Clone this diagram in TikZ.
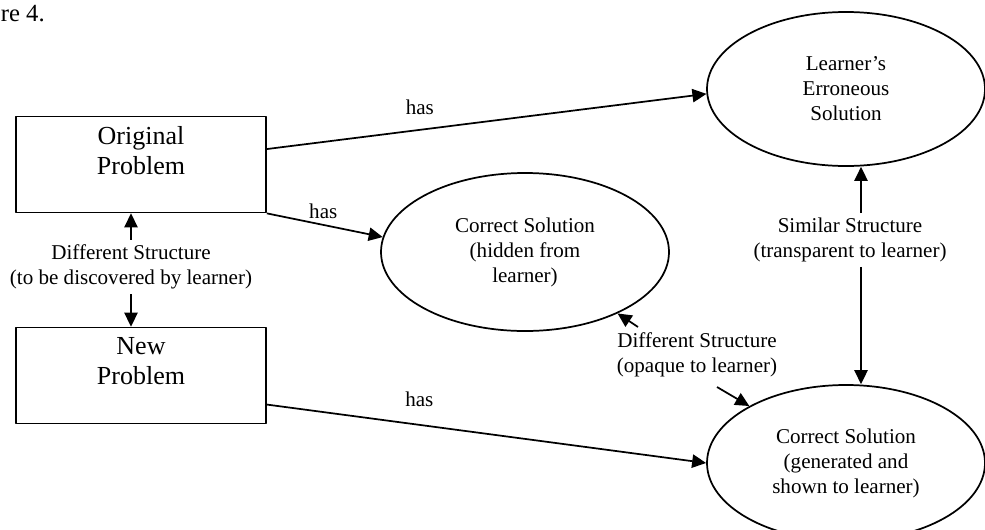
\documentclass[tikz,border=0pt]{standalone}
\usepackage{fontspec}
\setmainfont{Liberation Serif}
\usetikzlibrary{positioning,shapes.geometric,arrows.meta}
\begin{document}
\begin{tikzpicture}[x=0.75pt,y=-0.75pt,line width=1.3pt,line join=round,>={Triangle[length=10.5pt,width=10pt]}]
\tikzset{probbox/.style={draw,rectangle,minimum width=187.5pt,minimum height=72pt,inner sep=0pt},
	boxtext/.style={align=center,font=\fontsize{19.5}{22.5}\selectfont,inner sep=3pt},
	solell/.style={draw,ellipse,inner sep=0pt,align=center,font=\fontsize{15.8}{18.8}\selectfont},
	lab/.style={align=center,font=\fontsize{15.8}{18.8}\selectfont,inner xsep=1.5pt,inner ysep=3pt},
	haslab/.style={font=\fontsize{15.8}{18.8}\selectfont,inner sep=1pt}}
\useasboundingbox (0,0) rectangle (985,529);
\node[anchor=base west,inner sep=0pt,font=\fontsize{18.5}{20}\selectfont] (fig) at (0,21) {re 4.};
% problems
\node[probbox] (orig) at (141,164.5) {};
\node[boxtext,below=4.5pt of orig.north] (origtxt) {Original\\Problem};
\node[probbox] (new) at (141,375.5) {};
\node[boxtext,below=4.5pt of new.north] (newtxt) {New\\Problem};
% solutions
\node[solell,minimum width=208.5pt,minimum height=115.5pt] (learner) at (846,89) {Learner's\\Erroneous\\Solution};
\node[solell,minimum width=216pt,minimum height=118.5pt] (hidden) at (525,252) {Correct Solution\\(hidden from\\learner)};
\node[solell,minimum width=208.5pt,minimum height=117pt] (sol) at (846,463) {Correct Solution\\(generated and\\shown to learner)};
% structure labels
\node[lab] (diffA) at (131,267) {Different Structure\\(to be discovered by learner)};
\node[lab] (simlab) at (850,240) {Similar Structure\\(transparent to learner)};
\node[lab] (opq) at (697,355) {Different Structure\\(opaque to learner)};
\coordinate (simx) at (861,0);
\coordinate (opqA) at (638,327);
\coordinate (opqB) at (717,387);
\draw[->] (diffA.north) -- (diffA.north |- orig.south);
\draw[->] (diffA.south) -- (diffA.south |- new.north);
\draw[->] (simx |- simlab.north) -- (simx |- learner.south);
\draw[->] (simx |- simlab.south) -- (simx |- sol.north);
\draw[->] (opqA) -- (hidden);
\draw[->] (opqB) -- (sol);
% has
\draw[->] (orig.7) -- (learner.182) node[haslab,pos=0.348,above=9.7pt] (has1) {has};
\draw[->] (orig.south east) -- (hidden.174) node[haslab,pos=0.487,above=3.3pt] (has2) {has};
\draw[->] (new.-13) -- (sol.west) node[haslab,pos=0.347,above=11.6pt] (has3) {has};
\end{tikzpicture}
\end{document}
